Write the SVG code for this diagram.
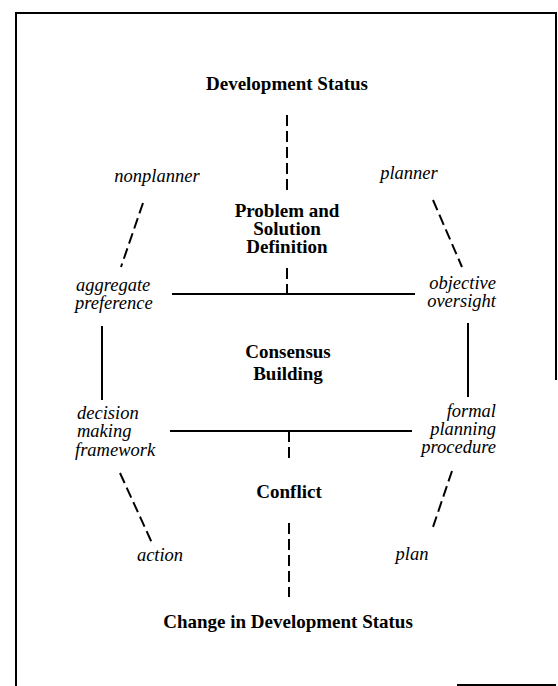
<svg xmlns="http://www.w3.org/2000/svg" width="558" height="686" viewBox="0 0 558 686">
<style>
.b{font-family:"Liberation Serif","Times New Roman",serif;font-weight:bold;font-size:19px;fill:#000;text-anchor:middle}
.i{font-family:"Liberation Serif","Times New Roman",serif;font-style:italic;font-size:18.5px;fill:#000}
.s{stroke:#000;stroke-width:2;fill:none}
.d{stroke:#000;stroke-width:2;fill:none;stroke-dasharray:11 5}
.f{stroke:#000;stroke-width:2;fill:none}
</style>
<rect width="558" height="686" fill="#fff"/>
<g id="frame">
<path class="f" d="M16,686 V13 H556 V380"/>
<path class="f" d="M457,685 H556"/>
</g>
<g id="connectors">
<path class="d" d="M287,115 V190"/>
<path class="d" d="M287,268 V294"/>
<path class="s" d="M172,294 H415"/>
<path class="d" d="M143,203 L121,267"/>
<path class="d" d="M433,200 L462,267"/>
<path class="s" d="M102,326 V400"/>
<path class="s" d="M468,323 V397"/>
<path class="s" d="M170,431 H412"/>
<path class="d" d="M289,431 V459"/>
<path class="d" d="M120,473 L152,543"/>
<path class="d" d="M452,471 L433,527"/>
<path class="d" d="M289,523 V597"/>
</g>
<g id="development-status"><text class="b" x="287" y="90">Development Status</text></g>
<g id="nonplanner"><text class="i" x="157" y="182" text-anchor="middle">nonplanner</text></g>
<g id="planner"><text class="i" x="409" y="179" text-anchor="middle">planner</text></g>
<g id="problem-solution"><text class="b" x="287" y="217">Problem and</text><text class="b" x="287" y="235">Solution</text><text class="b" x="287" y="253">Definition</text></g>
<g id="aggregate-preference"><text class="i" x="76" y="291">aggregate</text><text class="i" x="75" y="309">preference</text></g>
<g id="objective-oversight"><text class="i" x="496" y="289" text-anchor="end">objective</text><text class="i" x="496" y="307" text-anchor="end">oversight</text></g>
<g id="consensus-building"><text class="b" x="288" y="358">Consensus</text><text class="b" x="288" y="380">Building</text></g>
<g id="decision-making"><text class="i" x="77" y="419">decision</text><text class="i" x="77" y="437">making</text><text class="i" x="75" y="456">framework</text></g>
<g id="formal-planning"><text class="i" x="496" y="417" text-anchor="end">formal</text><text class="i" x="496" y="435" text-anchor="end">planning</text><text class="i" x="496" y="453" text-anchor="end">procedure</text></g>
<g id="conflict"><text class="b" x="289" y="498">Conflict</text></g>
<g id="action"><text class="i" x="160" y="561" text-anchor="middle">action</text></g>
<g id="plan"><text class="i" x="412" y="560" text-anchor="middle">plan</text></g>
<g id="change-status"><text class="b" x="288" y="628">Change in Development Status</text></g>
</svg>
